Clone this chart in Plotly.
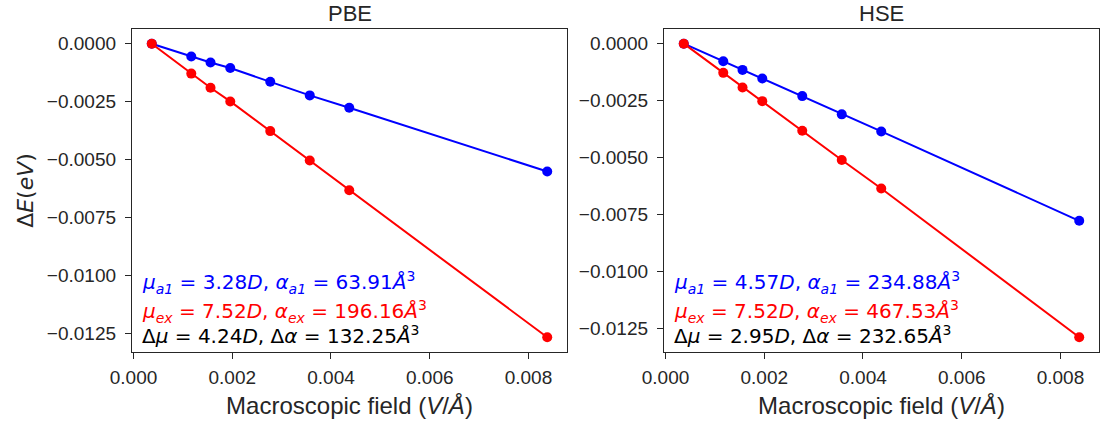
import plotly.graph_objects as go

# Data
field = [0.00037, 0.00117, 0.00156, 0.00196, 0.00277, 0.00357, 0.00437, 0.00838]

pbe_a1 = [0.0, -0.00055, -0.00081, -0.00105, -0.00164, -0.00223, -0.00276, -0.00551]
pbe_ex = [0.0, -0.00129, -0.00190, -0.00249, -0.00377, -0.00504, -0.00632, -0.01266]

hse_a1 = [0.0, -0.00077, -0.00115, -0.00153, -0.00230, -0.00310, -0.00385, -0.00777]
hse_ex = [0.0, -0.00128, -0.00192, -0.00252, -0.00382, -0.00510, -0.00635, -0.01288]

panel_titles = ["PBE", "HSE"]
x_ticks = [0.000, 0.002, 0.004, 0.006, 0.008]
y_ticks = [0.0, -0.0025, -0.0050, -0.0075, -0.0100, -0.0125]

ann_lines = {
    "PBE": [
        ("<i>μ</i><sub><i>a1</i></sub> = 3.28<i>D</i>, <i>α</i><sub><i>a1</i></sub> = 63.91<i>Å</i><sup>3</sup>", "#0000ff"),
        ("<i>μ</i><sub><i>ex</i></sub> = 7.52<i>D</i>, <i>α</i><sub><i>ex</i></sub> = 196.16<i>Å</i><sup>3</sup>", "#ff0000"),
        ("Δ<i>μ</i> = 4.24<i>D</i>, Δ<i>α</i> = 132.25<i>Å</i><sup>3</sup>", "#000000"),
    ],
    "HSE": [
        ("<i>μ</i><sub><i>a1</i></sub> = 4.57<i>D</i>, <i>α</i><sub><i>a1</i></sub> = 234.88<i>Å</i><sup>3</sup>", "#0000ff"),
        ("<i>μ</i><sub><i>ex</i></sub> = 7.52<i>D</i>, <i>α</i><sub><i>ex</i></sub> = 467.53<i>Å</i><sup>3</sup>", "#ff0000"),
        ("Δ<i>μ</i> = 2.95<i>D</i>, Δ<i>α</i> = 232.65<i>Å</i><sup>3</sup>", "#000000"),
    ],
}

W, H = 1101, 425
TXT = "#262626"
SANS = "Liberation Sans, Arial, sans-serif"
TICKFONT = dict(family=SANS, size=19, color=TXT)
LABELFONT = dict(family=SANS, size=24, color=TXT)
MATHFONT = "DejaVu Sans, sans-serif"

fig = go.Figure()

series = [(pbe_a1, pbe_ex, "x", "y"), (hse_a1, hse_ex, "x2", "y2")]
for a1, ex, xa, ya in series:
    fig.add_trace(go.Scatter(x=field, y=a1, mode="lines+markers", xaxis=xa, yaxis=ya,
                             line=dict(color="#0000ff", width=2),
                             marker=dict(color="#0000ff", size=10), showlegend=False))
    fig.add_trace(go.Scatter(x=field, y=ex, mode="lines+markers", xaxis=xa, yaxis=ya,
                             line=dict(color="#ff0000", width=2),
                             marker=dict(color="#ff0000", size=10), showlegend=False))

def margins(vals_lists):
    lo = min(min(v) for v in vals_lists)
    hi = max(max(v) for v in vals_lists)
    m = (hi - lo) * 0.05
    return [lo - m, hi + m]

xr = margins([field])
yr1 = margins([pbe_a1, pbe_ex])
yr2 = margins([hse_a1, hse_ex])

# plot area in pixels
L, R, T, B = 132, 1099, 29, 352
PW, PH = R - L, B - T
xdom1 = [0, (567 - L) / PW]
xdom2 = [(664 - L) / PW, 1]

axis_common = dict(showline=True, linecolor=TXT, linewidth=1.25, mirror=True,
                   ticks="outside", ticklen=6, tickwidth=1.25, tickcolor=TXT,
                   showgrid=False, zeroline=False, tickfont=TICKFONT, automargin=False)

fig.update_layout(
    template="none",
    width=W, height=H, margin=dict(l=L, r=W - R, t=T, b=H - B, pad=0),
    paper_bgcolor="white", plot_bgcolor="white",
    xaxis=dict(domain=xdom1, range=xr, anchor="y", tickvals=x_ticks, tickformat=".3f",
               ticklabelstandoff=2,
               title=dict(text="Macroscopic field (<i>V</i>/<i>Å</i>)", font=LABELFONT, standoff=10),
               **axis_common),
    yaxis=dict(domain=[0, 1], range=yr1, anchor="x", tickvals=y_ticks, tickformat=".4f",
               ticklabelstandoff=5,
               title=dict(text="Δ<i>E</i>(<i>eV</i>)", font=dict(family=MATHFONT, size=22, color=TXT), standoff=7),
               **axis_common),
    xaxis2=dict(domain=xdom2, range=xr, anchor="y2", tickvals=x_ticks, tickformat=".3f",
                ticklabelstandoff=2,
                title=dict(text="Macroscopic field (<i>V</i>/<i>Å</i>)", font=LABELFONT, standoff=10),
                **axis_common),
    yaxis2=dict(domain=[0, 1], range=yr2, anchor="x2", tickvals=y_ticks, tickformat=".4f",
                ticklabelstandoff=5,
                **axis_common),
)

annotations = []
title_y = 1 + (T - 14) / PH
for i, name in enumerate(panel_titles):
    xref = "x domain" if i == 0 else "x2 domain"
    yref = "y domain" if i == 0 else "y2 domain"
    annotations.append(dict(text=name, xref=xref, yref="paper", x=0.5, y=title_y,
                            xanchor="center", yanchor="middle", showarrow=False,
                            font=dict(family=SANS, size=22, color=TXT)))
    ys = [0.2146, 0.126, 0.0526]
    for (txt, col), yy in zip(ann_lines[name], ys):
        annotations.append(dict(text=txt, xref=xref, yref=yref, x=0.018, y=yy,
                                xanchor="left", yanchor="middle", showarrow=False,
                                font=dict(family=MATHFONT, size=20, color=col)))
fig.update_layout(annotations=annotations)

fig.write_html("out.html")
